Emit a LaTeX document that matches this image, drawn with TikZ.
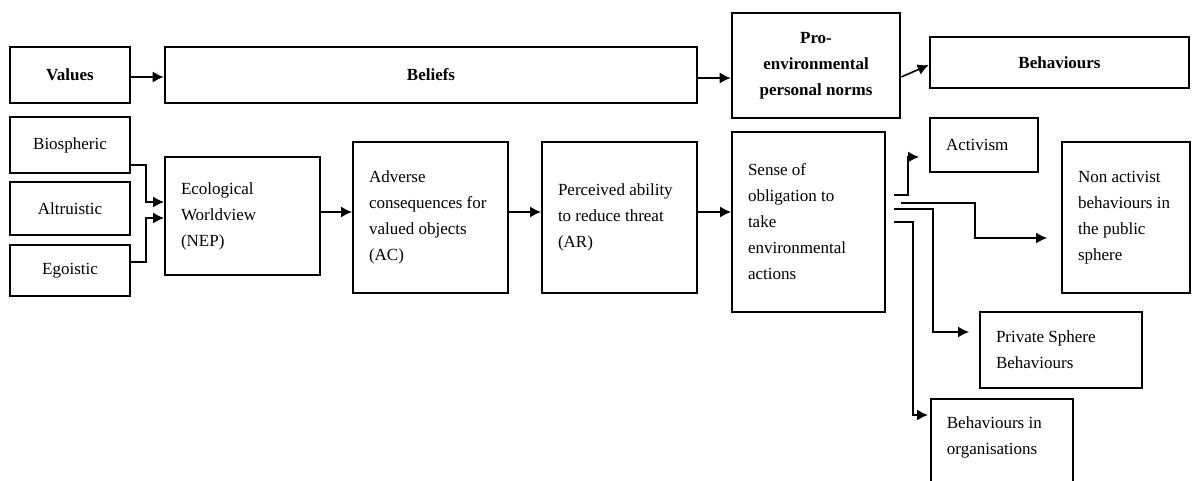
\documentclass[tikz,border=0pt]{standalone}
\usepackage{fontspec}
\setmainfont{Liberation Serif}
\usetikzlibrary{arrows.meta}

\begin{document}
\begin{tikzpicture}[x=1pt,y=-1pt,>={Latex[length=11pt,width=11pt]},
  every node/.style={font=\fontsize{17}{26}\selectfont},
  head/.style={draw,line width=2.6pt,font=\fontsize{17}{26}\selectfont\bfseries,align=center,inner sep=0pt},
  val/.style={draw,line width=1.8pt,minimum width=120pt,align=center},
  txt/.style={draw,line width=1.8pt,inner xsep=16pt,inner ysep=0pt,align=flush left},
  link/.style={->,line width=1.6pt}]
  \useasboundingbox (0,0) rectangle (1192,480);
  % headings
  \node[head,minimum width=120pt,minimum height=56pt] (values) at (70,75) {Values};
  \node[head,minimum width=532pt,minimum height=56pt] (beliefs) at (431,75) {Beliefs};
  \node[head,minimum width=168pt,minimum height=105pt] (norms) at (816,65.5) {Pro-\\environmental\\personal norms};
  \node[head,minimum width=259pt,minimum height=51pt] (behav) at (1059.5,62.5) {Behaviours};
  % values
  \node[val,minimum height=56pt] (bio) at (70,145) {Biospheric};
  \node[val,minimum height=53pt] (alt) at (70,208.5) {Altruistic};
  \node[val,minimum height=51pt] (ego) at (70,270.5) {Egoistic};
  % beliefs chain
  \node[txt,text width=123pt,minimum height=118pt] (nep) at (242.5,216) {Ecological\\Worldview\\(NEP)};
  \node[txt,text width=123pt,minimum height=151pt] (ac) at (430.5,217.5) {Adverse\\consequences for\\valued objects\\(AC)};
  \node[txt,text width=123pt,minimum height=151pt] (ar) at (619.5,217.5) {Perceived ability\\to reduce threat\\(AR)};
  \node[txt,text width=121pt,minimum height=180pt] (sense) at (808.5,222) {Sense of\\obligation to\\take\\environmental\\actions};
  % behaviours
  \node[txt,text width=76pt,minimum height=54pt] (act) at (984,145) {Activism};
  \node[txt,text width=96pt,minimum height=151pt] (nonact) at (1126,217.5) {Non activist\\behaviours in\\the public\\sphere};
  \node[txt,text width=130pt,minimum height=76pt] (priv) at (1061,350) {Private Sphere\\Behaviours};
  \node[txt,text width=110pt,inner ysep=18pt,text depth=44pt,anchor=north west] (org) at (930,398) {Behaviours in\\organisations};

  \draw[link] ([yshift=-2pt]values.east) -- ([yshift=-2pt]beliefs.west);
  \draw[link] ([yshift=-3pt]beliefs.east) -- ([yshift=-12.5pt]norms.west);
  \draw[link] ([yshift=-11.5pt]norms.east) -- ([yshift=-2.5pt]behav.west);

  \draw[link] ([yshift=-20pt]bio.east) -- ++(15,0) |- ([yshift=14pt]nep.west);
  \draw[link] ([yshift=8.5pt]ego.east) -- ++(15,0) |- ([yshift=-2pt]nep.west);
  \draw[link] ([yshift=4pt]nep.east) -- ([yshift=5.5pt]ac.west);
  \draw[link] ([yshift=5.5pt]ac.east) -- ([yshift=5.5pt]ar.west);
  \draw[link] ([yshift=5.5pt]ar.east) -- ([yshift=10pt]sense.west);

  \draw[link] ([xshift=8pt,yshift=27pt]sense.east) -- ++(14,0) |- ([xshift=-10pt,yshift=-12pt]act.west);
  \draw[link] ([xshift=15pt,yshift=19pt]sense.east) -- ++(74,0) |- ([xshift=-14pt,yshift=-20.5pt]nonact.west);
  \draw[link] ([xshift=8pt,yshift=13pt]sense.east) -- ++(39,0) |- ([xshift=-10pt,yshift=18pt]priv.west);
  \draw[link] ([xshift=8pt]sense.east) -- ++(19,0) |- ([xshift=-2pt,yshift=-17pt]org.north west);
\end{tikzpicture}
\end{document}
